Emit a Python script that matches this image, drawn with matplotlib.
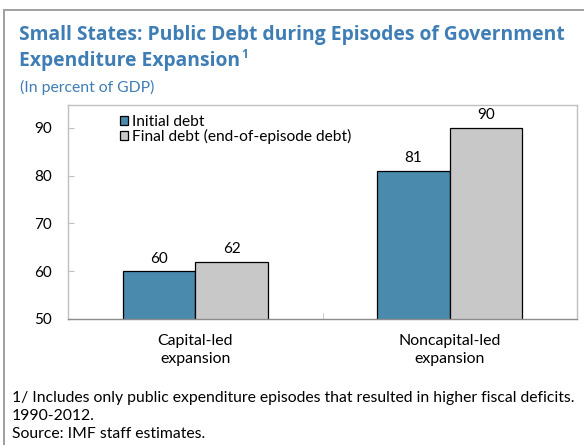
import matplotlib
matplotlib.use('Agg')
import matplotlib.pyplot as plt
from matplotlib.lines import Line2D
import numpy as np

plt.rcParams['font.family'] = ['Lato', 'DejaVu Sans']

# data
categories = ['Capital-led\nexpansion', 'Noncapital-led\nexpansion']
initial_debt = [60, 81]
final_debt = [62, 90]
series_names = ['Initial debt', 'Final debt (end-of-episode debt)']

BLUE = '#4a8bad'
GRAY = '#c8c8c8'
TITLE_BLUE = '#3f7db5'

W, H = 584, 445
fig = plt.figure(figsize=(W / 100, H / 100), dpi=100)

# outer box (top and left edges only)
fig.add_artist(Line2D([3.5 / W, 1], [1 - 9.5 / H, 1 - 9.5 / H], transform=fig.transFigure,
                      color='#a0a0a0', lw=1.4))
fig.add_artist(Line2D([3.5 / W, 3.5 / W], [0, 1 - 9.5 / H], transform=fig.transFigure,
                      color='#a0a0a0', lw=1.4))

# title block
title_font = dict(color=TITLE_BLUE, fontweight='bold', va='baseline',
                  family=['Open Sans', 'DejaVu Sans'])
fig.text(19 / W, 1 - 40 / H, 'Small States: Public Debt during Episodes of Government',
         fontsize=13.9, **title_font)
line2 = fig.text(19 / W, 1 - 66 / H, 'Expenditure Expansion', fontsize=13.9, **title_font)
# footnote marker right after the second title line
bb = line2.get_window_extent(renderer=fig.canvas.get_renderer())
fig.text(bb.x1 / W + 1.5 / W, 1 - 58 / H, '1', fontsize=8.5, **title_font)
fig.text(20 / W, 1 - 92 / H, '(In percent of GDP)', color=TITLE_BLUE, fontsize=11.3,
         va='baseline')

ax = fig.add_axes([68 / W, 1 - 319 / H, 509 / W, 214 / H])
x = np.arange(len(categories))
bw = 0.285
b1 = ax.bar(x - bw / 2, initial_debt, bw, color=BLUE, edgecolor='black', lw=0.9,
            label=series_names[0])
b2 = ax.bar(x + bw / 2, final_debt, bw, color=GRAY, edgecolor='black', lw=0.9,
            label=series_names[1])

for bars, vals in [(b1, initial_debt), (b2, final_debt)]:
    for r, v in zip(bars, vals):
        ax.annotate(f'{v}', (r.get_x() + r.get_width() / 2, v), xytext=(0, 4),
                    textcoords='offset points', ha='center', va='bottom', fontsize=11)

ax.set_ylim(50, 94.8)
ax.set_xlim(-0.5, 1.5)
ax.set_yticks([50, 60, 70, 80, 90])
ax.tick_params(axis='y', direction='in', length=4, color='#c0c0c0', pad=11.5,
               labelsize=11)
ax.set_xticks(x)
ax.set_xticklabels(categories, fontsize=11.4, linespacing=1.3)
ax.tick_params(axis='x', which='major', length=0, pad=11)
ax.set_xticks([0.5], minor=True)
ax.tick_params(axis='x', which='minor', direction='in', length=4, color='#c0c0c0')

for side in ['top', 'right', 'left']:
    ax.spines[side].set_color('#bfbfbf')
ax.spines['bottom'].set_color('#8c8c8c')
for s in ax.spines.values():
    s.set_linewidth(1)

ax.legend(loc='upper left', bbox_to_anchor=(0.102, 0.952), frameon=False, fontsize=11.2,
          handlelength=0.5, handleheight=0.5, handletextpad=0.3, borderpad=0,
          borderaxespad=0, labelspacing=0.0)

# footnotes
foot = ['1/ Includes only public expenditure episodes that resulted in higher fiscal deficits.',
        '1990-2012.',
        'Source: IMF staff estimates.']
for i, line in enumerate(foot):
    fig.text(12 / W, 1 - (402 + 18 * i) / H, line, fontsize=11.3, va='baseline')

fig.savefig('out.png', dpi=100)
